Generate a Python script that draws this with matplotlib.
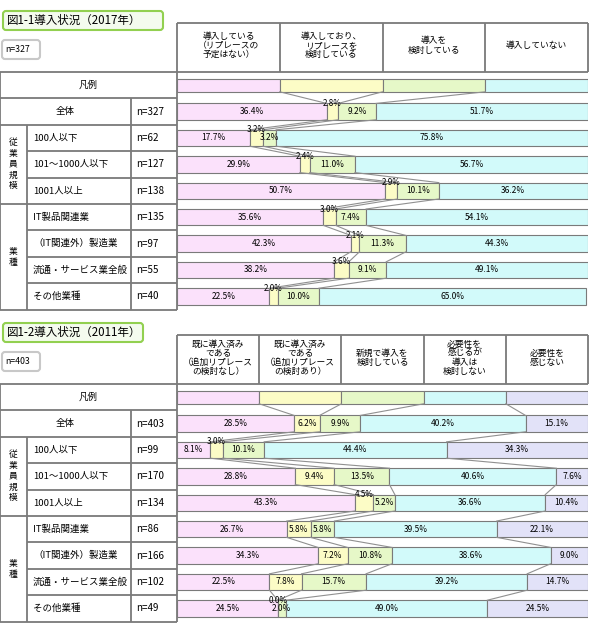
import matplotlib
matplotlib.use('Agg')
import matplotlib.pyplot as plt
from matplotlib.patches import FancyBboxPatch

plt.rcParams['font.family'] = ['Noto Sans CJK JP', 'DejaVu Sans']

rows = ['全体', '100人以下', '101～1000人以下', '1001人以上',
        'IT製品関連業', '（IT関連外）製造業', '流通・サービス業全般', 'その他業種']

cats_2017 = ['導入している\n（リプレースの\n予定はない）', '導入しており、\nリプレースを\n検討している',
             '導入を\n検討している', '導入していない']
n_2017 = [327, 62, 127, 138, 135, 97, 55, 40]
vals_2017 = [
    [36.4, 2.8, 9.2, 51.7],
    [17.7, 3.2, 3.2, 75.8],
    [29.9, 2.4, 11.0, 56.7],
    [50.7, 2.9, 10.1, 36.2],
    [35.6, 3.0, 7.4, 54.1],
    [42.3, 2.1, 11.3, 44.3],
    [38.2, 3.6, 9.1, 49.1],
    [22.5, 2.0, 10.0, 65.0],
]

cats_2011 = ['既に導入済み\nである\n（追加リプレース\nの検討なし）', '既に導入済み\nである\n（追加リプレース\nの検討あり）',
             '新規で導入を\n検討している', '必要性を\n感じるが\n導入は\n検討しない', '必要性を\n感じない']
n_2011 = [403, 99, 170, 134, 86, 166, 102, 49]
vals_2011 = [
    [28.5, 6.2, 9.9, 40.2, 15.1],
    [8.1, 3.0, 10.1, 44.4, 34.3],
    [28.8, 9.4, 13.5, 40.6, 7.6],
    [43.3, 4.5, 5.2, 36.6, 10.4],
    [26.7, 5.8, 5.8, 39.5, 22.1],
    [34.3, 7.2, 10.8, 38.6, 9.0],
    [22.5, 7.8, 15.7, 39.2, 14.7],
    [24.5, 0.0, 2.0, 49.0, 24.5],
]

colors = ['#fbe1fb', '#fcfcc6', '#e6f8c8', '#d2fafa', '#e2e2f8']
edge = '#7a7a7a'
W, H = 590, 633
FS = 6.3

fig = plt.figure(figsize=(W / 100, H / 100), dpi=100)
ax = fig.add_axes([0, 0, 1, 1])
ax.set_xlim(0, W)
ax.set_ylim(H, 0)
ax.axis('off')


def line(x0, y0, x1, y1, lw=1.3):
    ax.plot([x0, x1], [y0, y1], color=edge, lw=lw, solid_capstyle='butt')


def panel(top, title, title_w, total_n, cats, ns, vals):
    # title and n boxes
    ax.add_patch(FancyBboxPatch((3, top - 12), title_w, 19, boxstyle='round,pad=0,rounding_size=3',
                                fc='#f4fbee', ec='#92d050', lw=1.5))
    ax.text(7, top - 2.5, title, fontsize=8.3, va='center', ha='left')
    ax.add_patch(FancyBboxPatch((2, top + 17), 38, 19, boxstyle='round,pad=0,rounding_size=3',
                                fc='white', ec='#c8c8c8', lw=1.5))
    ax.text(5, top + 26.5, 'n=%d' % total_n, fontsize=FS, va='center')

    # header
    hy0, hy1 = top, top + 49
    x0, x1 = 177, 588
    k = len(cats)
    xs = [x0 + (x1 - x0) * i / k for i in range(k + 1)]
    line(x0, hy0, x1, hy0)
    for i, c in enumerate(cats):
        line(xs[i], hy0, xs[i], hy1)
        ax.text((xs[i] + xs[i + 1]) / 2, (hy0 + hy1) / 2 - 2, c, fontsize=FS, ha='center',
                va='center', linespacing=1.0)
    line(x1, hy0, x1, hy1)

    # left table
    ly = hy1
    pitch = 26.4
    line(0, ly, x1, ly)
    line(0, ly, 0, ly + 9 * pitch)
    line(x0, ly, x0, ly + 9 * pitch)
    ax.text(x0 / 2, ly + pitch / 2, '凡例', fontsize=FS + 0.5, ha='center', va='center')
    for r in range(8):
        y = ly + (r + 1) * pitch
        line(0 if r in (0, 1, 4) else 27, y, x0, y)
        yc = y + pitch / 2
        if r == 0:
            ax.text(65, yc, rows[r], fontsize=FS + 0.5, ha='center', va='center')
        else:
            ax.text(33, yc, rows[r], fontsize=FS + 0.5, ha='left', va='center')
        ax.text(136, yc, 'n=%d' % ns[r], fontsize=FS + 0.8, ha='left', va='center')
    line(0, ly + 9 * pitch, x0, ly + 9 * pitch)
    line(131, ly + pitch, 131, ly + 9 * pitch)
    line(27, ly + 2 * pitch, 27, ly + 9 * pitch)
    ax.text(13, ly + 3.5 * pitch, '\n'.join('従業員規模'), fontsize=FS, ha='center', va='center',
            linespacing=1.25)
    ax.text(13, ly + 7 * pitch, '\n'.join('業種'), fontsize=FS, ha='center', va='center',
            linespacing=1.3)

    # bar axes: rows 0 = legend, 1..8 = data
    bx = fig.add_axes([x0 / W, 1 - (ly + 9 * pitch) / H, (x1 - x0) / W, 9 * pitch / H])
    bx.set_xlim(0, 100)
    bx.set_ylim(9, 0)
    bx.axis('off')
    h = 0.62
    leg = [100 / k] * k
    all_rows = [leg] + vals
    prev_cum = None
    for r, v in enumerate(all_rows):
        yc = r + 0.5
        hh = 0.5 if r == 0 else h
        left = 0
        cum = [0]
        prev_above = False
        for j, val in enumerate(v):
            bx.barh(yc, val, left=left, height=hh, color=colors[j], edgecolor=edge, lw=0.8)
            if r > 0:
                if val < 5 and not prev_above:
                    bx.text(left + val / 2, yc - hh / 2, '%.1f%%' % val, fontsize=FS - 0.5,
                            ha='center', va='center')
                    prev_above = True
                else:
                    bx.text(left + val / 2, yc, '%.1f%%' % val, fontsize=FS - 0.3,
                            ha='center', va='center')
                    prev_above = False
            left += val
            cum.append(left)
        if prev_cum is not None:
            for a, b in zip(prev_cum[1:-1], cum[1:-1]):
                bx.plot([a, b], [yc - 1 + (0.25 if r == 1 else h / 2), yc - hh / 2],
                        color='#909090', lw=0.8)
        prev_cum = cum


panel(23, '図1-1導入状況（2017年）', 160, 327, cats_2017, n_2017, vals_2017)
panel(335, '図1-2導入状況（2011年）', 140, 403, cats_2011, n_2011, vals_2011)

fig.savefig('out.png', dpi=100)
